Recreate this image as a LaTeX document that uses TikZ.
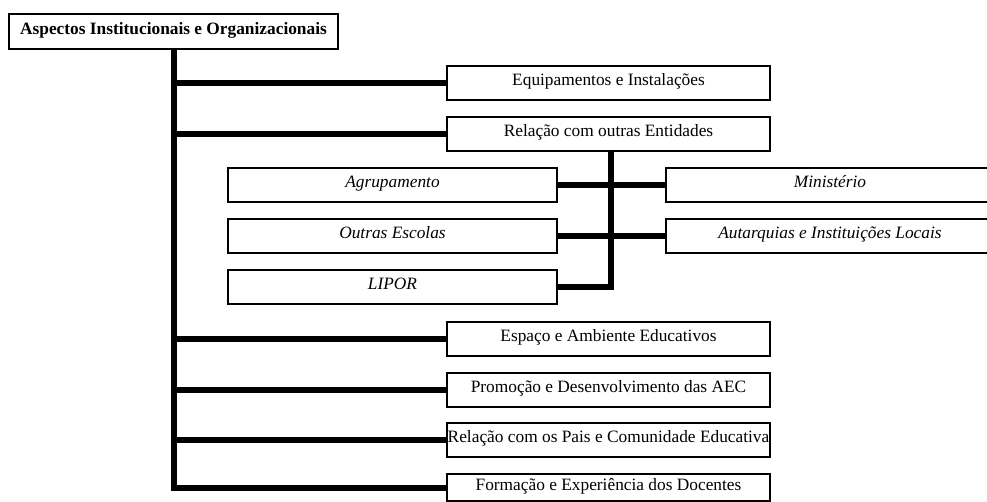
\documentclass[tikz,border=0pt]{standalone}
\usepackage{fontspec}
\setmainfont{Liberation Serif}
\usetikzlibrary{positioning}

\tikzset{
  caixa/.style={draw, line width=1.5pt, inner sep=0pt, minimum height=25.5pt,
    text height=8pt, text depth=4pt, font=\fontsize{13}{15}\selectfont},
  largo/.style={caixa, minimum width=242.25pt},
  sub/.style={caixa, minimum width=246.5pt, font=\fontsize{13}{15}\selectfont\itshape},
  ramo/.style={line width=4.5pt},
}

\begin{document}
\begin{tikzpicture}[x=0.75pt,y=-0.75pt]
  \useasboundingbox (0,0) rectangle (987,502);
  \clip (0,0) rectangle (987,502);

  % topo
  \node[caixa, minimum width=246.75pt, minimum height=26.25pt] (topo) at (173.5,31.5)
    {\textbf{Aspectos Institucionais e Organizacionais}};

  % coluna da direita
  \node[largo] (equip) at (608.5,83) {Equipamentos e Instalações};
  \node[largo] (relacao) at (608.5,134) {Relação com outras Entidades};
  \node[largo] (espaco) at (608.5,338.5) {Espaço e Ambiente Educativos};
  \node[largo] (promocao) at (608.5,389.5) {Promoção e Desenvolvimento das AEC};
  \node[largo] (pais) at (608.5,440) {Relação com os Pais e Comunidade Educativa};
  \node[largo, minimum height=20.25pt] (formacao) at (608.5,487.5) {Formação e Experiência dos Docentes};

  % entidades
  \node[sub] (agrup) at (392.5,185) {Agrupamento};
  \node[sub] (outras) at (392.5,236) {Outras Escolas};
  \node[sub] (lipor) at (392.5,287) {LIPOR};
  \node[sub] (minist) at (830,185) {Ministério};
  \node[sub] (autarq) at (830,236) {Autarquias e Instituições Locais};

  % tronco principal
  \draw[ramo] (topo.south) |- (formacao.west);
  \foreach \b in {equip, relacao, espaco, promocao, pais}
    \draw[ramo] (topo.south |- \b.west) -- (\b.west);

  % ramo das entidades
  \coordinate (eixo) at (611,0);
  \draw[ramo] (relacao.south -| eixo) |- (lipor.east);
  \draw[ramo] (agrup.east) -- (minist.west);
  \draw[ramo] (outras.east) -- (autarq.west);
\end{tikzpicture}
\end{document}
